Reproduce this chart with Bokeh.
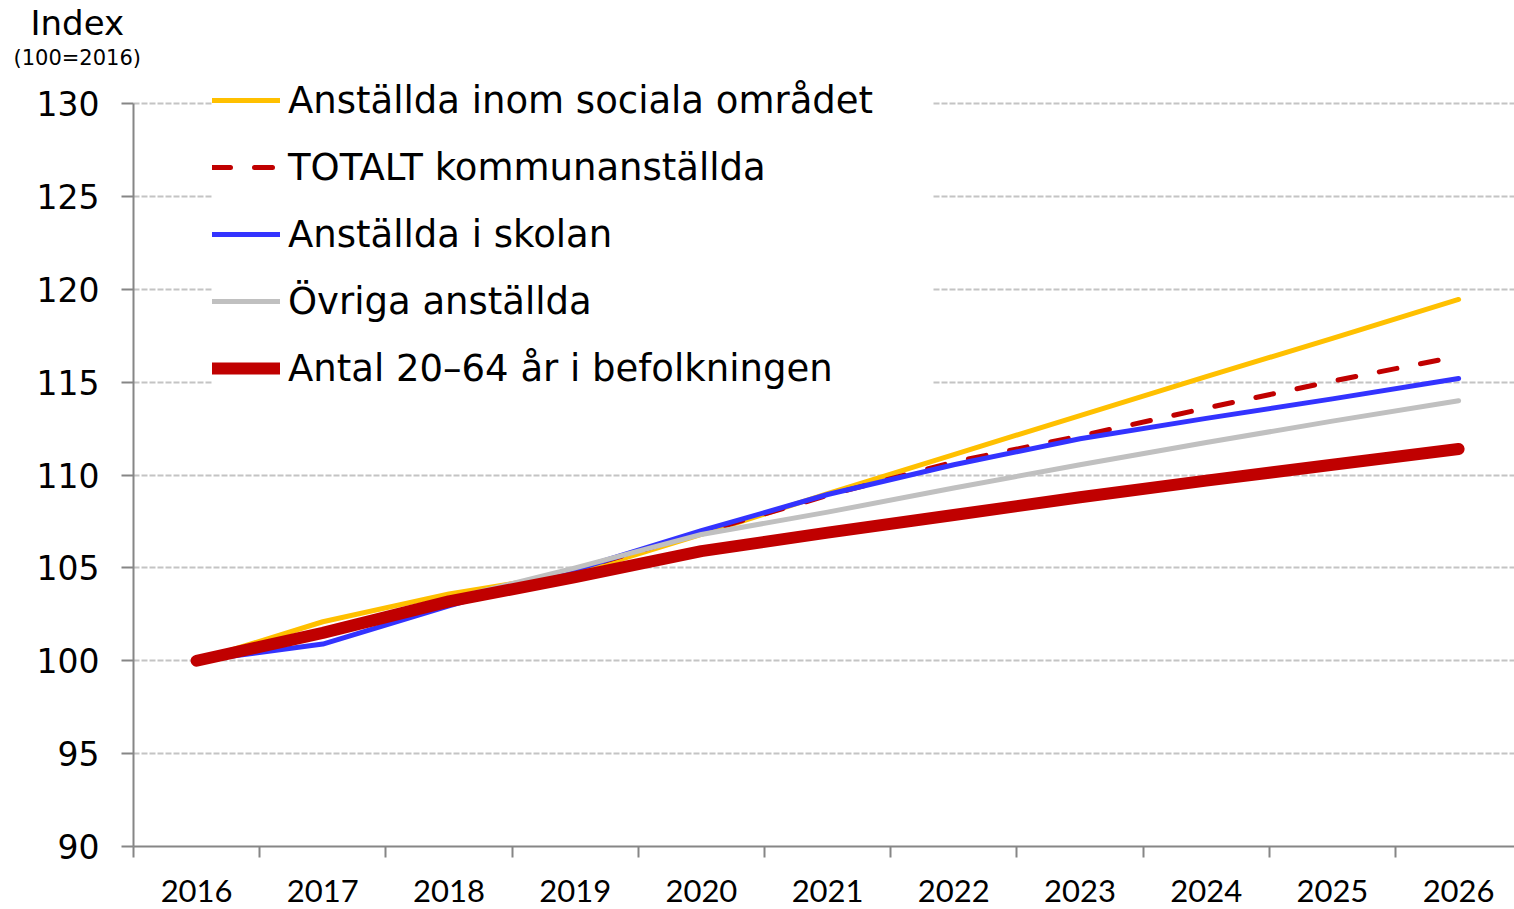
from bokeh.plotting import figure
from bokeh.models import Range1d, FixedTicker, Legend, LegendItem, Title
from bokeh.embed import file_html
from bokeh.resources import INLINE

years = [2016, 2017, 2018, 2019, 2020, 2021, 2022, 2023, 2024, 2025, 2026]
social = [100, 102.1, 103.6, 104.7, 106.8, 109.0, 111.1, 113.2, 115.3, 117.35, 119.45]
total = [100, 101.5, 103.2, 104.9, 106.9, 108.9, 110.7, 112.1, 113.6, 115.05, 116.4]
school = [100, 100.9, 102.95, 104.9, 107.0, 108.95, 110.55, 111.95, 113.05, 114.1, 115.2]
other = [100, 101.6, 103.3, 105.0, 106.8, 108.0, 109.3, 110.55, 111.75, 112.9, 114.0]
pop = [100, 101.5, 103.2, 104.5, 105.9, 106.9, 107.85, 108.8, 109.7, 110.55, 111.4]

names = ["Anställda inom sociala området", "TOTALT kommunanställda",
         "Anställda i skolan", "Övriga anställda", "Antal 20–64 år i befolkningen"]
y_ticks = [90, 95, 100, 105, 110, 115, 120, 125, 130]
cat_bounds = [2015.5, 2016.5, 2017.5, 2018.5, 2019.5, 2020.5, 2021.5, 2022.5, 2023.5, 2024.5, 2025.5]

AXIS = "#868686"
p = figure(width=1514, height=909, output_backend="svg", toolbar_location=None,
           x_range=Range1d(2015.5, 2026.443), y_range=Range1d(90, 131.777),
           min_border_left=133, min_border_right=0, min_border_top=70, min_border_bottom=63)
p.outline_line_color = None
p.background_fill_color = "white"
p.border_fill_color = "white"

p.xgrid.grid_line_color = None
p.ygrid.ticker = FixedTicker(ticks=y_ticks)
p.ygrid.grid_line_color = "#C4C4C4"
p.ygrid.grid_line_width = 2
p.ygrid.grid_line_dash = "6 2"

xa = p.xaxis[0]
xa.ticker = FixedTicker(ticks=years, minor_ticks=cat_bounds)
xa.axis_line_color = AXIS
xa.axis_line_width = 2
xa.major_tick_out = 0
xa.major_tick_in = 0
xa.major_tick_line_color = None
xa.minor_tick_out = 11
xa.minor_tick_in = 0
xa.minor_tick_line_color = AXIS
xa.minor_tick_line_width = 2
xa.major_label_text_font = "Lato"
xa.major_label_text_font_size = "31px"
xa.major_label_text_color = "black"
xa.major_label_standoff = 22

ya = p.yaxis[0]
ya.ticker = FixedTicker(ticks=y_ticks)
ya.bounds = (90, 130)
ya.axis_line_color = AXIS
ya.axis_line_width = 2
ya.major_tick_out = 12
ya.major_tick_in = 0
ya.major_tick_line_color = AXIS
ya.major_tick_line_width = 2
ya.minor_tick_line_color = None
ya.major_label_text_font = "DejaVu Sans"
ya.major_label_text_font_size = "33px"
ya.major_label_text_color = "black"
ya.major_label_standoff = 22

r1 = p.line(years, social, line_color="#FFC000", line_width=5, line_cap="round", line_join="round")
r2 = p.line(years, total, line_color="#C00000", line_width=5, line_dash="18 24", line_cap="round")
r3 = p.line(years, school, line_color="#3333FF", line_width=5, line_cap="round", line_join="round")
r4 = p.line(years, other, line_color="#C0C0C0", line_width=5, line_cap="round", line_join="round")
r5 = p.line(years, pop, line_color="#C00000", line_width=12, line_cap="round", line_join="round")

legend = Legend(items=[LegendItem(label=n, renderers=[r]) for n, r in zip(names, [r1, r2, r3, r4, r5])],
                location=(79, 456), padding=0, margin=0, spacing=23,
                glyph_width=68, glyph_height=44, label_height=44, label_width=645,
                label_standoff=8,
                label_text_font="DejaVu Sans", label_text_font_size="37px",
                label_text_color="black", border_line_color=None,
                background_fill_color="white", background_fill_alpha=1.0)
p.add_layout(legend)

p.add_layout(Title(text="(100=2016)", align="left", offset=-120, standoff=2,
                   text_font="DejaVu Sans", text_font_size="21px",
                   text_font_style="normal", text_color="black"), "above")
p.add_layout(Title(text="Index", align="left", offset=-103, standoff=0,
                   text_font="DejaVu Sans", text_font_size="34px",
                   text_font_style="normal", text_color="black"), "above")

open("out.html", "w").write(file_html(p, INLINE))
